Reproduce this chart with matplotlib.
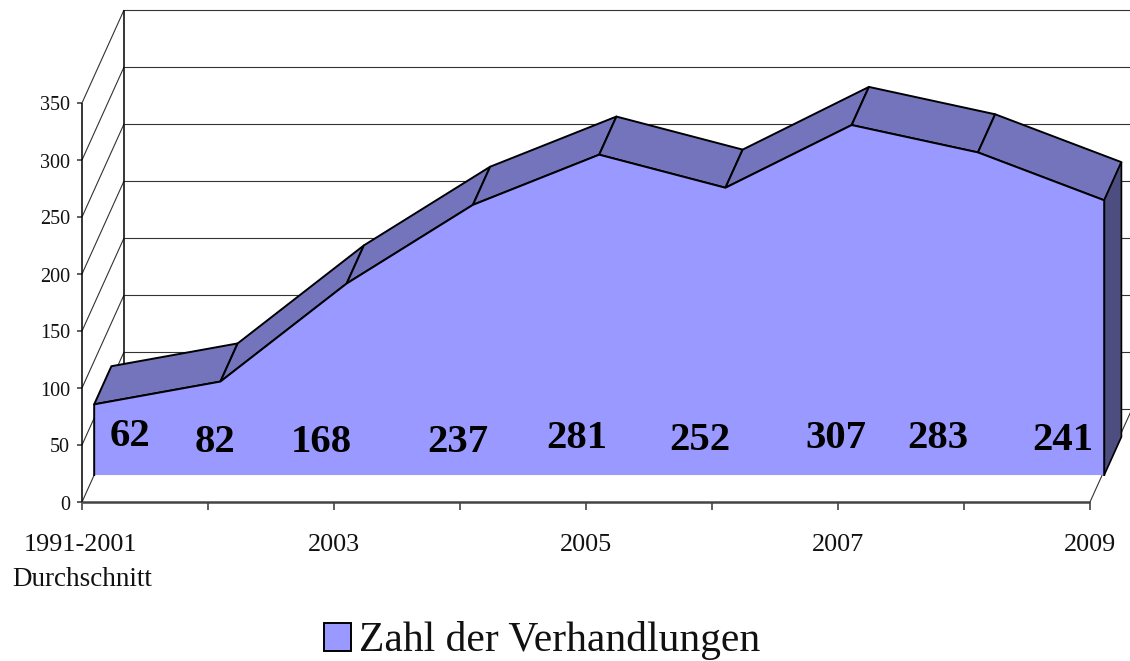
import matplotlib
matplotlib.use('Agg')
import matplotlib.pyplot as plt
from matplotlib.patches import Polygon, Patch

plt.rcParams['font.family'] = ['Liberation Serif', 'DejaVu Sans']

# Data
years = ['1991-2001', '2002', '2003', '2004', '2005', '2006', '2007', '2008', '2009']
verhandlungen = [62, 82, 168, 237, 281, 252, 307, 283, 241]
y_ticks = [0, 50, 100, 150, 200, 250, 300, 350]
x_tick_labels = {0: '1991-2001', 2: '2003', 4: '2005', 6: '2007', 8: '2009'}
series_name = 'Zahl der Verhandlungen'

# Hand placed data labels, pixel offset from the foot of each category on the front axis
label_dx = [48, 7, -13, -2, -9, -12, -2, -26, -27]
label_dy = [65, 59, 60, 60, 63, 61, 63, 63, 61]

# Colours
front_col = '#9999FF'
top_col = '#7474BD'
side_col = '#4D4D80'
grid_col = '#333333'

# Layout, 1 category = 126 px, 1 unit = 1.14 px, the axis origin sits at pixel (82, 502)
W, H = 1130, 661
px_x, px_y = 126.0, 1.14
x0, y0 = 82, 502

# 3D look: a point at depth d is sheared by d*(DX, DV), d=1 is the back wall
DX = 42 / px_x
DV = 93 / px_y
d_front = 0.29
d_back = 0.70
area_stretch = 1.002


def pt(i, v, d=0.0):
    return (i + d * DX, v + d * DV)


def apt(i, v, d):
    # the area is a hair wider than the axis
    return pt(i * area_stretch, v, d)


fig = plt.figure(figsize=(W / 100, H / 100), dpi=100)
ax = fig.add_axes([0, 0, 1, 1])
ax.set_xlim(-x0 / px_x, (W - x0) / px_x)
ax.set_ylim((y0 - H) / px_y, y0 / px_y)
ax.axis('off')

n = len(verhandlungen)
last = n - 1


def line(p, q, lw=0.8, col=grid_col, z=1):
    ax.plot([p[0], q[0]], [p[1], q[1]], color=col, lw=lw, zorder=z, solid_capstyle='butt')


# Back wall and left wall grid
for t in y_ticks:
    line(pt(0, t), pt(0, t, 1))
    line(pt(0, t, 1), pt(last, t, 1))
    line(pt(0, t), pt(-0.04, t), lw=1.2, col='#444444')
line(pt(0, 0), pt(0, y_ticks[-1]), lw=1.1, col='black')
line(pt(0, 0, 1), pt(0, y_ticks[-1], 1), lw=1.1, col='black')

# Floor
line(pt(last, 0), pt(last, 0, 1))
line(pt(0, 0), pt(last, 0), lw=1.8, col='#444444', z=2)
for i in range(n):
    line(pt(i, 0), pt(i, -7), lw=1.2, col='#444444')

# Top faces of the area, one strip per segment
for i in range(last):
    strip = [apt(i, verhandlungen[i], d_front), apt(i + 1, verhandlungen[i + 1], d_front),
             apt(i + 1, verhandlungen[i + 1], d_back), apt(i, verhandlungen[i], d_back)]
    ax.add_patch(Polygon(strip, closed=True, facecolor=top_col, edgecolor='black', lw=1.4,
                         joinstyle='round', zorder=3))

# Right side face
side = [apt(last, 0, d_front), apt(last, verhandlungen[-1], d_front),
        apt(last, verhandlungen[-1], d_back), apt(last, 0, d_back)]
ax.add_patch(Polygon(side, closed=True, facecolor=side_col, edgecolor='black', lw=1.2, zorder=3))

# Front face, no edge along the bottom
front_top = [apt(i, verhandlungen[i], d_front) for i in range(n)]
front = [apt(0, 0, d_front)] + front_top + [apt(last, 0, d_front)]
ax.add_patch(Polygon(front, closed=True, facecolor=front_col, edgecolor='none', zorder=4))
ax.plot([p[0] for p in front], [p[1] for p in front], color='black', lw=1.4, zorder=5,
        solid_joinstyle='round')

# Tick labels
for t in y_ticks:
    ax.annotate(str(t), xy=(0, t), xytext=(-12, -3), textcoords='offset pixels',
                ha='right', va='center', fontsize=14.5, color='#111111')
for i, lab in x_tick_labels.items():
    ax.annotate(lab, xy=(i, 0), xytext=(-2 if i == 0 else 0, -43),
                textcoords='offset pixels', ha='center', va='center',
                fontsize=18.8, color='#111111')
ax.annotate('Durchschnitt', xy=(0, 0), xytext=(0, -77), textcoords='offset pixels',
            ha='center', va='center', fontsize=19.5, color='#111111')

# Data labels
for i, v in enumerate(verhandlungen):
    ax.annotate(str(v), xy=(i, 0), xytext=(label_dx[i], label_dy[i]), textcoords='offset pixels',
                ha='center', va='center', fontsize=29.3, fontweight='bold', color='black', zorder=6)

# Legend
handle = Patch(facecolor=front_col, edgecolor='black', lw=1.4)
ax.legend([handle], [series_name], loc='center', bbox_to_anchor=(542 / W, 1 - 641 / H),
          frameon=False, fontsize=29.9, borderpad=0, handlelength=0.66, handleheight=0.66,
          handletextpad=0.2, labelcolor='#111111')

plt.savefig('out.png', dpi=100)
